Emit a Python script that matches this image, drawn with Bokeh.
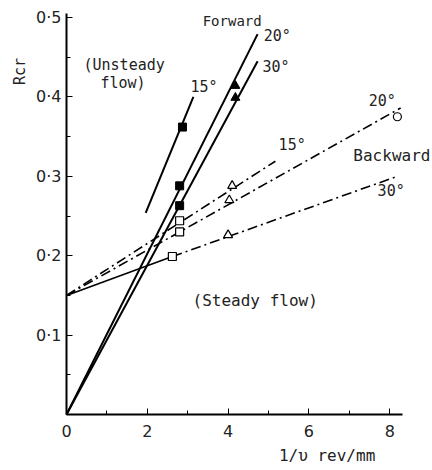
from bokeh.plotting import figure
from bokeh.models import Range1d, Label, FixedTicker
from bokeh.embed import file_html
from bokeh.resources import INLINE

FONT = "DejaVu Sans Mono"
TICK_FONT = "DejaVu Sans"

# Forward swirl lines (solid): start/end points in (1/v, Rcr)
fwd15_x = [1.96, 3.14]
fwd15_y = [0.254, 0.400]
fwd20_x = [0.0, 4.73]
fwd20_y = [0.0, 0.479]
fwd30_x = [0.0, 4.73]
fwd30_y = [0.0, 0.445]

# Forward measured points
fwd_sq_x = [2.87, 2.80, 2.80]
fwd_sq_y = [0.362, 0.288, 0.263]
fwd_tri_x = [4.18, 4.18]
fwd_tri_y = [0.414, 0.399]

# Backward swirl lines (dash-dot)
bwd15_x = [0.0, 5.17]
bwd15_y = [0.150, 0.319]
bwd20_x = [0.0, 8.27]
bwd20_y = [0.150, 0.386]
bwd30_solid_x = [0.0, 2.62]
bwd30_solid_y = [0.150, 0.199]
bwd30_x = [2.62, 8.19]
bwd30_y = [0.199, 0.300]

# Backward measured points
bwd_sq_x = [2.80, 2.80, 2.62]
bwd_sq_y = [0.244, 0.230, 0.199]
bwd_tri_x = [4.10, 4.03, 4.00]
bwd_tri_y = [0.288, 0.270, 0.226]
bwd_circ_x = [8.19]
bwd_circ_y = [0.375]

x_ticks = [0, 2, 4, 6, 8]
x_minor = [1, 3, 5, 7]
y_ticks = [0.1, 0.2, 0.3, 0.4, 0.5]
y_minor = [0.05, 0.15, 0.25, 0.35, 0.45]
y_tick_text = {0.1: "0·1", 0.2: "0·2", 0.3: "0·3", 0.4: "0·4", 0.5: "0·5"}

# The frame fills the whole canvas; the axes sit at x=0 / y=0 so that the
# surrounding annotation text is drawn inside the frame.
p = figure(width=432, height=470, output_backend="svg", toolbar_location=None,
           x_range=Range1d(-1.634, 9.059), y_range=Range1d(-0.0705, 0.5214),
           min_border=0)
p.outline_line_color = None
p.grid.visible = False
p.background_fill_color = "white"
p.border_fill_color = "white"

p.xaxis.fixed_location = 0
p.yaxis.fixed_location = 0
p.xaxis.bounds = (0, 8.32)
p.yaxis.bounds = (0, 0.505)

for ax in (p.xaxis[0], p.yaxis[0]):
    ax.axis_line_width = 2
    ax.axis_line_color = "black"
    ax.major_tick_in = 6
    ax.major_tick_out = 0
    ax.minor_tick_in = 4
    ax.minor_tick_out = 0
    ax.major_tick_line_color = "black"
    ax.minor_tick_line_color = "black"
    ax.major_label_text_font = TICK_FONT
    ax.major_label_text_font_size = "16px"
    ax.major_label_text_color = "#222222"

p.xaxis.ticker = FixedTicker(ticks=x_ticks, minor_ticks=x_minor)
p.yaxis.ticker = FixedTicker(ticks=y_ticks, minor_ticks=y_minor)
p.xaxis.major_label_standoff = 10
p.yaxis.major_label_standoff = 5
p.yaxis.major_label_overrides = y_tick_text

# Forward lines
for xs, ys in ((fwd15_x, fwd15_y), (fwd20_x, fwd20_y), (fwd30_x, fwd30_y)):
    p.line(xs, ys, line_color="black", line_width=2)

# Backward lines
DD = "10 4 2 4"
p.line(bwd15_x, bwd15_y, line_color="black", line_width=1.6, line_dash=DD)
p.line(bwd20_x, bwd20_y, line_color="black", line_width=1.6, line_dash=DD)
p.line(bwd30_solid_x, bwd30_solid_y, line_color="black", line_width=1.6)
p.line(bwd30_x, bwd30_y, line_color="black", line_width=1.6, line_dash=DD)

# Markers
p.scatter(fwd_sq_x, fwd_sq_y, marker="square", size=8, fill_color="black",
          line_color="black")
p.scatter(fwd_tri_x, fwd_tri_y, marker="triangle", size=9, fill_color="black",
          line_color="black")
p.scatter(bwd_sq_x, bwd_sq_y, marker="square", size=8, fill_color="white",
          line_color="black", line_width=1.2)
p.scatter(bwd_tri_x, bwd_tri_y, marker="triangle", size=9, fill_color="white",
          line_color="black", line_width=1.2)
p.scatter(bwd_circ_x, bwd_circ_y, marker="circle", size=8, fill_color="white",
          line_color="black", line_width=1.2)


def note(x, y, text, size="15px", align="left", angle=0.0):
    p.add_layout(Label(x=x, y=y, text=text, text_font=FONT,
                       text_font_size=size, text_color="#222222",
                       text_align=align, text_baseline="middle", angle=angle))


note(3.37, 0.496, "Forward", size="14px")
note(4.88, 0.477, "20°")
note(4.85, 0.438, "30°")
note(3.07, 0.413, "15°")
note(0.42, 0.440, "(Unsteady")
note(0.84, 0.418, "flow)")
note(5.25, 0.339, "15°")
note(7.48, 0.395, "20°")
note(7.10, 0.326, "Backward", size="16px")
note(7.70, 0.281, "30°")
note(3.12, 0.1436, "(Steady flow)", size="16px")
note(-1.163, 0.432, "Rcr", size="15px", align="center", angle=1.5708)
note(6.45, -0.0516, "1/υ rev/mm", size="16px", align="center")

html = file_html(p, INLINE)
open("out.html", "w").write(html)
